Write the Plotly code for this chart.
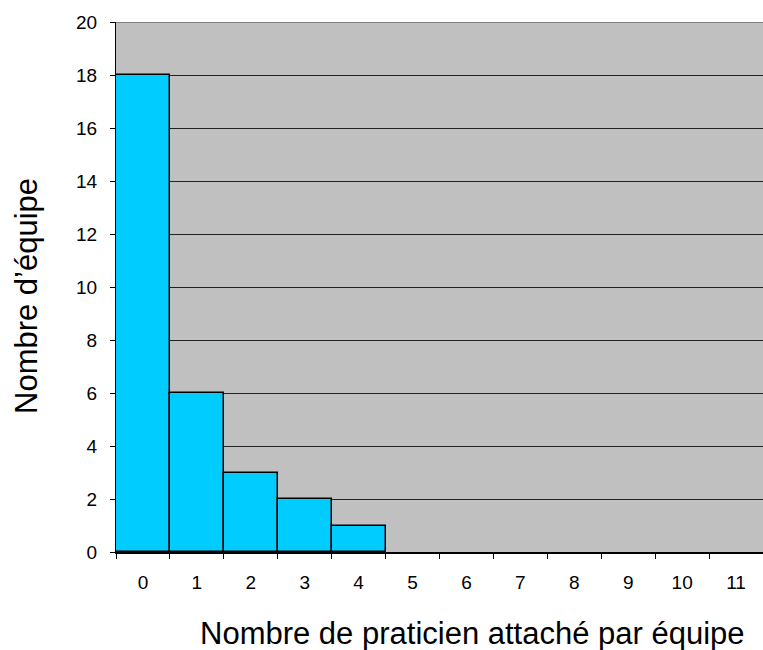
import plotly.graph_objects as go

categories = [str(i) for i in range(12)]
bar_x = ["0", "1", "2", "3", "4"]
bar_y = [18, 6, 3, 2, 1]
y_ticks = list(range(0, 21, 2))

fig = go.Figure()
fig.add_trace(go.Bar(
    x=bar_x, y=bar_y, width=1.0,
    marker=dict(color="#00CCFF", line=dict(color="black", width=1.5)),
))

fig.update_layout(
    width=763, height=650,
    margin=dict(l=116, r=0, t=22, b=98),
    paper_bgcolor="white", plot_bgcolor="#C0C0C0",
    showlegend=False,
    font=dict(family="Liberation Sans, Arial", size=19, color="black"),
    bargap=0,
)
fig.update_xaxes(
    type="category", categoryorder="array", categoryarray=categories,
    range=[-0.5, 11.5], tickson="boundaries", ticks="outside", ticklen=5,
    tickcolor="black", showgrid=False, showline=True, linecolor="black", linewidth=2,
    ticklabelstandoff=12, zeroline=False,
)
fig.update_yaxes(
    range=[0, 20], tickvals=y_ticks, ticks="outside", ticklen=5, tickcolor="black",
    showgrid=True, gridcolor="#222222", gridwidth=1, showline=True, linecolor="black",
    linewidth=1, zeroline=False, ticklabelstandoff=9,
)
# top border of the plot area
fig.add_shape(type="line", xref="paper", yref="y", x0=0, x1=1, y0=20, y1=20,
              line=dict(color="#808080", width=2))

fig.add_annotation(text="Nombre de praticien attaché par équipe", xref="paper", yref="paper",
                   x=(472 - 116) / 647, y=-(633 - 552) / 530, showarrow=False,
                   font=dict(size=31), xanchor="center", yanchor="middle")
fig.add_annotation(text="Nombre d’équipe", xref="paper", yref="paper",
                   x=-(116 - 26) / 647, y=(552 - 296) / 530, showarrow=False, textangle=-90,
                   font=dict(size=31), xanchor="center", yanchor="middle")

fig.write_html("out.html")
